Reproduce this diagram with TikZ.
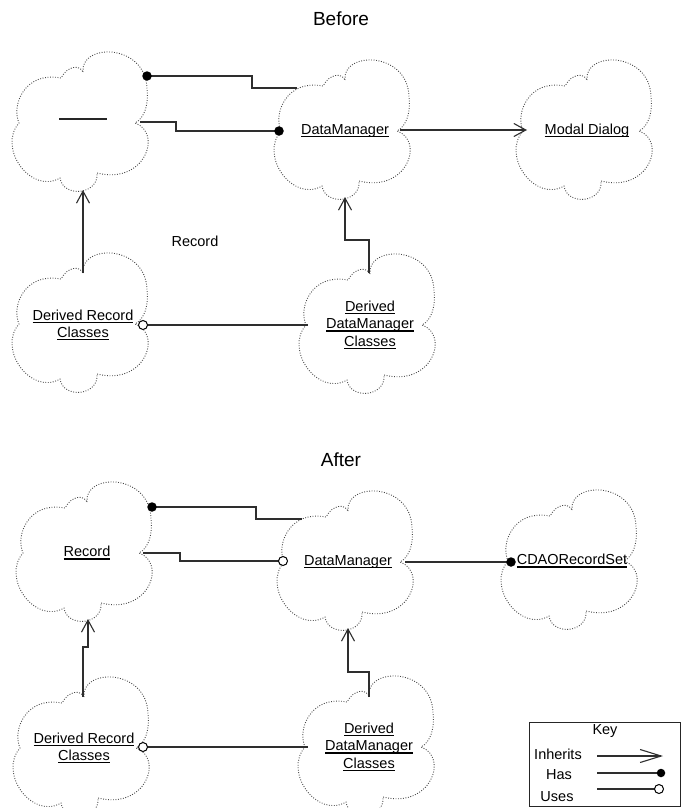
\documentclass[tikz,border=0pt]{standalone}
\usepackage{fontspec}
\setmainfont{Liberation Sans}
\usetikzlibrary{arrows.meta,calc}

% class name with a flat underline just below the baseline
\newcommand\uname[1]{\sbox0{#1}\rlap{\rule[-2.6pt]{\wd0}{1.2pt}}\usebox0}

\tikzset{
  cloudline/.style={draw=black!72, line width=0.9pt, dash pattern=on 0.9pt off 1.6pt},
  pics/rosecloud/.style={code={
    \path[cloudline] (0,-51) .. controls (-3,-80) and (62,-80) .. (64,-35)
      .. controls (66,-20) and (62,-5) .. (52,0)
      .. controls (80,10) and (62,62) .. (14,50)
      .. controls (16,72) and (-20,75) .. (-23,55)
      .. controls (-52,72) and (-86,25) .. (-64,0)
      .. controls (-72,-18) and (-58,-52) .. (-22,-45)
      .. controls (-15,-58) and (-3,-58) .. (0,-51) -- cycle;
  }},
  classname/.style={align=center, inner sep=0pt, font=\fontsize{14.5}{17.5}\selectfont},
  plain/.style={inner sep=0pt, font=\fontsize{14.5}{17.5}\selectfont},
  heading/.style={inner sep=0pt, font=\fontsize{19}{22}\selectfont},
  conn/.style={draw=black!82, line width=1.1pt},
  inherits/.style={conn, -{Straight Barb[length=12pt,width=13pt]}},
  keyinherits/.style={conn, -{Straight Barb[length=21pt,width=13pt]}},
  hasdot/.style={circle, fill=black, inner sep=0pt, minimum size=9.5pt},
  usesdot/.style={circle, draw=black, fill=white, line width=1pt, inner sep=0pt, minimum size=9pt},
  keyframe/.style={draw=black!85, line width=1.1pt, inner sep=0pt},
}

\begin{document}
\begin{tikzpicture}[x=1pt, y=-1pt]
\useasboundingbox (0,0) rectangle (682,808);

% ---------------- Before ----------------
\node[heading] (tBefore) at (341,19) {Before};

\pic at (83,123) {rosecloud};
\pic at (345,131) {rosecloud};
\pic at (587,131) {rosecloud};
\pic at (83,324) {rosecloud};
\pic at (370,325) {rosecloud};

\node[classname] (recB) at (83,123) {};
\draw[black!85, line width=1.2pt] ([shift={(-24,-4)}]recB.center) -- ++(48,0);
\node[classname] (dmB) at (345,131) {\uname{DataManager}};
\node[classname] (modB) at (587,131) {\uname{Modal Dialog}};
\node[classname] (drB) at (83,325) {\uname{Derived Record}\\\uname{Classes}};
\node[classname] (ddB) at (370,325) {\uname{Derived}\\\uname{DataManager}\\\uname{Classes}};
\node[plain] (recLbl) at (195,241) {Record};

\draw[conn] ([shift={(64,-47)}]recB.center) node[hasdot]{} -- ++(105,0)
  |- ([shift={(-48,-43)}]dmB.center);
\draw[conn] ([shift={(57,-1)}]recB.center) -- ++(36,0)
  |- ([shift={(-66,0)}]dmB.center) node[hasdot]{};
\draw[inherits] ([shift={(55,-1)}]dmB.center) -- ([shift={(-60,-1)}]modB.center);
\draw[inherits] ([shift={(0,-52)}]drB.center) -- ([shift={(0,67)}]recB.center);
\draw[inherits] ([shift={(-1,-52)}]ddB.center) -- ++(0,-33)
  -| ([shift={(0,66)}]dmB.center);
\draw[conn] ([shift={(60,0)}]drB.center) node[usesdot]{} -- ([shift={(-62,0)}]ddB.center);

% ---------------- After ----------------
\node[heading] (tAfter) at (341,460) {After};

\pic at (87,553) {rosecloud};
\pic at (348,562) {rosecloud};
\pic at (572,561) {rosecloud};
\pic at (84,748) {rosecloud};
\pic at (369,747) {rosecloud};

\node[classname] (recA) at (87,553) {\uname{Record}};
\node[classname] (dmA) at (348,562) {\uname{DataManager}};
\node[classname] (cdA) at (572,561) {\uname{CDAORecordSet}};
\node[classname] (drA) at (84,748) {\uname{Derived Record}\\\uname{Classes}};
\node[classname] (ddA) at (369,747) {\uname{Derived}\\\uname{DataManager}\\\uname{Classes}};

\draw[conn] ([shift={(65,-46)}]recA.center) node[hasdot]{} -- ++(104,0)
  |- ([shift={(-46,-43)}]dmA.center);
\draw[conn] ([shift={(56,0)}]recA.center) -- ++(37,0)
  |- ([shift={(-65,-1)}]dmA.center) node[usesdot]{};
\draw[conn] ([shift={(57,0)}]dmA.center) -- ([shift={(-61,1)}]cdA.center) node[hasdot]{};
\draw[inherits] ([shift={(-1,-51)}]drA.center) -- ++(0,-50)
  -| ([shift={(1,66)}]recA.center);
\draw[inherits] ([shift={(0,-50)}]ddA.center) -- ++(0,-25)
  -| ([shift={(0,66)}]dmA.center);
\draw[conn] ([shift={(59,-1)}]drA.center) node[usesdot]{} -- ([shift={(-61,0)}]ddA.center);

% ---------------- Key ----------------
\node[keyframe, minimum width=151pt, minimum height=84pt, anchor=north west] (keybox) at (529,722) {};
\node[plain] (keyTitle) at (605,731) {Key};
\node[plain] (kInh) at (558,754) {Inherits};
\node[plain] (kHas) at (559,775) {Has};
\node[plain] (kUse) at (557,797) {Uses};
\coordinate (kInhA) at (597,756);
\coordinate (kInhB) at (663,756);
\coordinate (kHasA) at (597,773);
\coordinate (kHasB) at (661,773);
\coordinate (kUseA) at (597,789);
\coordinate (kUseB) at (659,789);
\draw[keyinherits] (kInhA) -- (kInhB);
\draw[conn] (kHasA) -- (kHasB) node[hasdot, minimum size=8.5pt]{};
\draw[conn] (kUseA) -- (kUseB) node[usesdot]{};

\end{tikzpicture}
\end{document}
